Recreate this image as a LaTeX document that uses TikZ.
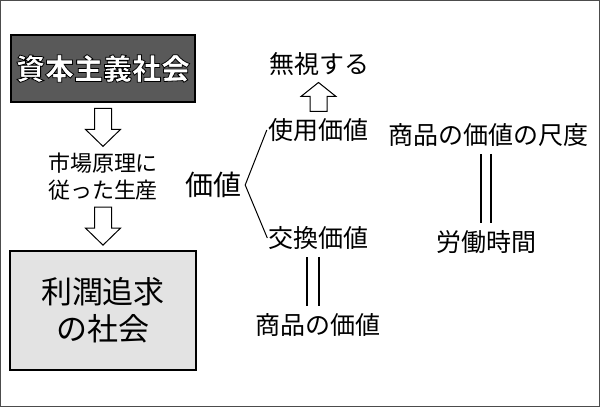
\documentclass[tikz,border=0pt]{standalone}
\usepackage{fontspec}
\newfontfamily\jpfont{Noto Sans CJK JP}
\newcommand{\outlined}[1]{\special{pdf:literal direct 2 Tr 0 G 0.8 w}#1\special{pdf:literal direct 0 Tr}}

\tikzset{
  lbl/.style={inner sep=1pt, font=\jpfont\fontsize{25pt}{30pt}\selectfont},
  darkbox/.style={draw=black, line width=1.4pt, fill=gray!70!black, text=white,
    minimum width=184pt, minimum height=67pt, inner sep=0pt,
    font=\jpfont\bfseries\fontsize{29pt}{34pt}\selectfont},
  lightbox/.style={draw=black, line width=1.4pt, fill=black!11, align=center,
    minimum width=186pt, minimum height=119pt, inner sep=0pt,
    font=\jpfont\fontsize{31pt}{37pt}\selectfont},
  pics/blockarrow/.style 2 args={code={
    \draw[line width=1pt, fill=white]
      (-8.5,-#1/2) -- (8.5,-#1/2) -- (8.5,#1/2-#2) -- (17.5,#1/2-#2)
      -- (0,#1/2) -- (-17.5,#1/2-#2) -- (-8.5,#1/2-#2) -- cycle;
  }},
  eqline/.style={double, double distance=10pt, line width=1.8pt}
}

\begin{document}
\begin{tikzpicture}[x=1pt, y=-1pt]
  \useasboundingbox (0,0) rectangle (600,407);
  \draw[line width=1.2pt, gray!60!black] (0.6,0.6) rectangle (599.4,406.4);

  % 左側の流れ
  \node[darkbox] (shihon) at (103,68.5) {\outlined{資本主義社会}};
  \node[lbl, align=center, font=\jpfont\fontsize{22pt}{27pt}\selectfont]
    (shijou) at (103,177) {市場原理に\\従った生産};
  \node[lightbox] (rijun) at (103,310.5) {利潤追求\\の社会};

  \path (shihon.south) -- coordinate[midway] (ya1) (shijou.north);
  \path (shijou.south) -- coordinate[midway] (ya2) (rijun.north);
  \pic at (ya1) {blockarrow={38}{17}};
  \pic at (ya2) {blockarrow={38}{17}};

  % 価値の分類
  \node[lbl, font=\jpfont\fontsize{28pt}{32pt}\selectfont] (kachi) at (213,185) {価値};
  \node[lbl] (shiyou) at (318,130) {使用価値};
  \node[lbl] (koukan) at (318.5,238) {交換価値};
  \node[lbl] (mushi) at (319,64) {無視する};
  \node[lbl] (shouhin) at (317.5,325) {商品の価値};

  \draw[line width=1pt] (shiyou.west) -- ([xshift=3pt]kachi.east) -- (koukan.west);
  \path (shiyou.north) -- coordinate[midway] (ya3) (mushi.south);
  \pic[rotate=180] at (ya3) {blockarrow={29}{14}};
  \draw[eqline] ([xshift=-5.5pt,yshift=-6pt]koukan.south)
    -- ([xshift=-5.5pt,yshift=6pt]koukan.south |- shouhin.north);

  % 尺度
  \node[lbl] (shakudo) at (488,135) {商品の価値の尺度};
  \node[lbl] (roudou) at (486,242) {労働時間};
  \draw[eqline, double distance=8.2pt] ([yshift=-6pt]roudou.north |- shakudo.south)
    -- ([yshift=6pt]roudou.north);
\end{tikzpicture}
\end{document}
